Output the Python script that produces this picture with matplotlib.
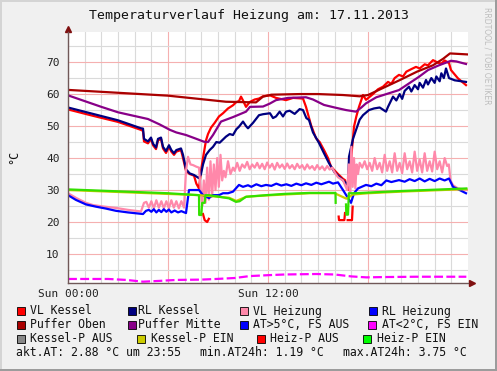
import numpy as np
import matplotlib
matplotlib.use("Agg")
import matplotlib.pyplot as plt
from matplotlib.patches import Rectangle

W, H = 497, 371
nan = np.nan

# --- data (hours since 00:00, degC) ---
vl_kessel_h = [0, 1.5, 3, 4.38, 4.5, 4.56, 4.8, 4.98, 5.1, 5.28, 5.4, 5.58, 5.7, 5.88, 6.06, 6.2, 6.36, 6.5,
               6.78, 6.9, 7.08, 7.3, 7.56, 7.7, 7.86, 7.98, 8.1, 8.28, 8.4, 8.58, 8.8, 9.06, 9.3, 9.6, 9.9,
               10.1, 10.26, 10.38, 10.5, 10.68, 10.9, 11.2, 11.46, 11.7, 12.12, 12.48, 13.08, 13.5, 14.1,
               14.28, 14.58, 14.88, 15.1, 15.36, 15.6, 15.78, 16.2, 16.5, 16.62, 16.8, 16.98, 17.16, 17.3,
               17.46, 17.7, 17.88, 18.3, 18.6, 18.9, 19.2, 19.4, 19.6, 19.86, 20.1, 20.3, 20.6, 20.88, 21.1,
               21.4, 21.6, 21.9, 22.2, 22.4, 22.6, 22.86, 22.98, 23.4, 23.88]
vl_kessel_v = [55.2, 53.2, 51.3, 48.8, 48.5, 45.2, 44.6, 46, 44, 42.8, 45.5, 46, 43, 41.6, 43.5, 42, 41, 42,
               42.5, 40, 36, 35, 34.5, 32, 30.5, 36, 40, 45.5, 47.5, 49.5, 51, 53, 54, 55.5, 56.5,
               57.5, 57.8, 59.2, 58, 56, 57.5, 58.3, 58.6, 59.3, 59.6, 58.8, 58.1, 58.8, 58.6,
               56, 50.3, 46.2, 45, 42.5, 40, 37.3, 35, 33.5, 33.1, 30, 39.4, 49.8, 53,
               56, 59.7, 58.2, 60, 61.5, 62.3, 63.8, 63.2, 65, 66, 65.5, 67, 67.8, 68.5, 68,
               69.3, 69, 70.6, 69.8, 69.5, 70.5, 69.7, 67.5, 64.9, 62.8]

rl_kessel_h = [0, 1.5, 3, 4.38, 4.5, 4.56, 4.8, 4.98, 5.1, 5.28, 5.4, 5.58, 5.7, 5.88, 6.06, 6.2, 6.36, 6.5,
               6.78, 6.9, 7.08, 7.3, 7.56, 7.86, 7.98, 8.1, 8.28, 8.5, 8.7, 8.9, 9.1, 9.48, 9.7, 9.9, 10.1,
               10.26, 10.5, 10.68, 10.8, 11.1, 11.46, 11.7, 12.12, 12.3, 12.48, 12.7, 12.9, 13.08, 13.3,
               13.6, 13.9, 14.1, 14.3, 14.46, 14.7, 15.06, 15.36, 15.66, 16.0, 16.4, 16.68, 16.8, 16.86,
               17.1, 17.28, 17.5, 17.7, 18.06, 18.36, 18.7, 19.08, 19.2, 19.5, 19.7, 19.9, 20.05, 20.2,
               20.46, 20.6, 20.8, 21.0, 21.1, 21.3, 21.48, 21.6, 21.8, 22.0, 22.1, 22.3, 22.4, 22.55,
               22.68, 22.86, 23.2, 23.88]
rl_kessel_v = [55.8, 53.8, 51.8, 49.3, 49.2, 46, 45.2, 46.4, 44.5, 43.3, 46, 46.4, 43.5, 42.2, 44, 42.5, 41.5, 42.5,
               43, 41, 36.5, 35.2, 34.7, 33.7, 35, 38, 41, 42.5, 43.5, 45, 44.8, 46.7, 47.5, 47.2, 49,
               49.8, 51.4, 50, 49.3, 51, 53.4, 53.7, 54, 52.5, 53, 54.5, 53, 54.5, 54.8,
               53.8, 55.3, 55, 52.5, 51.9, 48, 44.7, 41.5, 38.4, 35.5, 33.5, 32.2, 31, 40.4,
               46, 48.75, 52, 53.4, 55, 55.5, 55.8, 54.5, 56, 59.2, 58, 60, 58.5, 61,
               62.3, 60.8, 62.8, 61.5, 63.5, 62, 64.4, 63, 65, 63.5, 65.5, 64, 66.5, 65,
               68, 65, 64.3, 63.8]

vl_heiz_h = [0, 0.5, 1.08, 1.5, 2.2, 2.88, 3.6, 4.38, 4.56, 4.7, 4.85, 5.0, 5.15, 5.3, 5.45, 5.6, 5.75, 5.9,
             6.05, 6.2, 6.35, 6.5, 6.65, 6.8, 6.96, 7.08, 7.2, 7.35, 7.5, 7.7, 7.86, 7.98, 8.05, 8.15, 8.25,
             8.35, 8.45, 8.55, 8.65, 8.75, 8.85, 8.95, 9.05, 9.15, 9.25, 9.35, 9.45, 9.6, 9.75, 9.9, 10.0,
             10.15, 10.3, 10.45, 10.6, 10.75, 10.9, 11.05, 11.2, 11.35, 11.5, 11.65, 11.8, 11.95, 12.1,
             12.25, 12.4, 12.55, 12.7, 12.85, 13.0, 13.15, 13.3, 13.45, 13.6, 13.75, 13.9, 14.05, 14.2,
             14.35, 14.5, 14.65, 14.8, 14.95, 15.1, 15.25, 15.4, 15.55, 15.7, 15.85, 16.0, 16.2, 16.5,
             16.75, 16.85, 16.92, 17.0, 17.08, 17.16, 17.24, 17.32, 17.4, 17.5, 17.65, 17.8, 17.95, 18.1,
             18.25, 18.4, 18.55, 18.7, 18.85, 19.0, 19.15, 19.3, 19.45, 19.6, 19.75, 19.9, 20.05, 20.2,
             20.35, 20.5, 20.65, 20.8, 20.95, 21.1, 21.25, 21.4, 21.55, 21.7, 21.85, 22.0, 22.15, 22.3,
             22.45, 22.6, 22.75, 22.85, 22.95, 23.1, 23.4, 23.94]
vl_heiz_v = [29, 27.5, 26, 25.3, 24.8, 24.4, 23.8, 23.3, 26, 26.3, 24.5, 26.5, 24.3, 26.8, 24.5, 26.5, 24.3, 26.5,
             24.3, 26.8, 24.5, 26.5, 24.3, 26.5, 24.5, 36, 40.4, 38, 37.8, 37.3, 37, 29, 25, 33, 26,
             37, 27, 39, 28, 38, 30, 40, 31, 41, 33, 36, 34, 39, 35, 37, 36,
             38.5, 36, 38, 37, 38.8, 36.5, 38, 37, 38.5, 36.8, 38.2, 36.5, 38.6, 37,
             38.2, 36.4, 38.5, 37, 38, 36.6, 38.3, 36.8, 37.8, 36.5, 38.2, 36.9, 37.8, 36.4,
             38, 36.7, 37.5, 36.3, 37.8, 36.5, 37.4, 36.2, 37.5, 36.4, 37, 35.5, 34, 33,
             30, 38, 29, 43.5, 31, 40, 30.5, 38, 35, 38.5, 37, 39, 36.5, 38.5,
             36, 40, 36.5, 38.5, 35.5, 41, 36, 39, 35.5, 41.5, 36, 38.5, 35.3, 41.5,
             36.5, 39, 35.5, 42, 36, 39.5, 35.5, 41.5, 36, 39, 35.8, 42, 36.5, 39,
             35.5, 40, 37.5, 38, 33, 31.5, 30.5, 30]

rl_heiz_h = [0, 0.48, 1.08, 1.68, 2.28, 2.88, 3.6, 4.5, 4.68, 4.85, 5.0, 5.15, 5.3, 5.45, 5.6, 5.75, 5.9, 6.05,
             6.2, 6.4, 6.6, 6.8, 7.08, 7.26, 7.86, 8.1, 8.46, 8.7, 9.06, 9.3, 9.6, 9.9, 10.26, 10.5, 10.8,
             11.0, 11.3, 11.6, 11.88, 12.2, 12.5, 12.8, 13.1, 13.4, 13.7, 14.0, 14.28, 14.6, 14.9, 15.2,
             15.66, 15.9, 16.2, 16.5, 16.98, 17.16, 17.4, 17.88, 18.2, 18.5, 18.8, 19.1, 19.4, 19.86,
             20.2, 20.5, 20.8, 21.1, 21.4, 21.7, 22.0, 22.3, 22.6, 22.86, 23.1, 23.5, 23.88]
rl_heiz_v = [28.4, 26.9, 25.5, 24.8, 24.2, 23.5, 23, 22.5, 23.5, 23.8, 23.2, 24, 23, 23.8, 23.1, 24, 23.2, 23.9,
             23, 23.6, 23, 23.4, 22.8, 30, 30, 28.4, 27.5, 28.4, 28.4, 29, 29, 29.5, 31.6, 31, 31.5,
             31, 31.8, 31.2, 31.6, 31.3, 32, 31.4, 31.8, 31.3, 32, 31.5, 32.1, 31.6, 32.3, 31.8,
             32.6, 32, 32.4, 30, 26, 29, 30.5, 31.6, 31.2, 32, 31.5, 33, 32.5, 33.1,
             32.6, 33.4, 32.8, 33.6, 32.7, 33.5, 32.8, 33.6, 33, 33.6, 31, 30, 29]

puffer_oben_h = [0, 3, 6, 9.48, 11.28, 11.7, 12.2, 13.92, 15, 16.5, 17.5, 18, 18.9, 19.92, 20.94, 21.9, 22.5, 22.92, 23.94]
puffer_oben_v = [61.3, 60.4, 59.5, 57.6, 57.4, 59.2, 59.8, 60, 60, 59.7, 59.3, 59.7, 61.9, 64.4, 67, 69, 71, 72.7, 72.4]

puffer_mitte_h = [0, 1, 2, 3, 4.8, 5.5, 6.12, 6.5, 7.08, 7.6, 8.16, 8.4, 8.7, 9.18, 9.9, 10.68, 10.92, 11.7,
                  12.1, 12.48, 13.2, 14.28, 14.7, 15.36, 16.0, 16.68, 17.28, 17.6, 17.88, 18.5, 19.86,
                  21.06, 21.6, 22.26, 22.98, 23.3, 23.88]
puffer_mitte_v = [59.6, 57.8, 56, 54.3, 52.2, 50.5, 48.8, 48, 47.2, 46.2, 45.1, 45, 47.2, 51.4, 52.8, 54.5, 56, 56.1,
                  57, 58.1, 58.8, 59, 58.3, 56.6, 55.8, 55, 54.5, 55.8, 57.1, 59, 61.25,
                  65.4, 67.5, 69, 70.4, 70.2, 69.4]

aussen_h = [0, 1, 2.4, 3.5, 4.5, 5.5, 6.5, 8, 8.9, 10, 10.9, 12.06, 13, 14.9, 16, 17, 17.9, 19, 20.9, 22, 23.9]
aussen_v = [2.2, 2.2, 2.2, 1.9, 1.35, 1.6, 1.9, 2.0, 2.2, 2.5, 3.1, 3.4, 3.6, 3.75, 3.6, 3.0, 2.7, 2.8, 2.9, 2.9, 2.9]

kessel_p_ein_h = [0, 7.86, 9.66, 10.1, 10.7, 11.88, 14.5, 16.0, 16.7, 17.1, 18, 20, 23.9]
kessel_p_ein_v = [30, 28.4, 27.6, 26.6, 27.9, 28.3, 29, 29, 27.3, 28.6, 29, 29.5, 30.3]

heiz_p_aus_h = [8.1, 8.2, 8.35, 8.45, nan, 16.24, 16.26, 16.58, 16.62, nan, 16.78, 17.04, 17.08]
heiz_p_aus_v = [22.5, 20.6, 20.0, 21, nan, 21.7, 20.6, 20.6, 22.8, nan, 20.6, 20.6, 24.8]

heiz_p_ein_h = [0, 2, 4, 6, 7.86, 7.87, 8.0, 8.05, 8.2, 8.25, 8.46, 9.66, 10.08, 10.3, 10.68, 11.88, 13, 14.5,
                16.05, 16.06, nan, 16.68, 16.7, 16.8, 16.85, 17.2, 20, 23.9]
heiz_p_ein_v = [30.2, 29.8, 29.4, 29, 28.4, 22.2, 22.2, 26, 26, 28.4, 28.4, 27.4, 26.3, 26.5, 27.9, 28.4, 28.8, 29.1,
                29.1, 26, nan, 25.5, 22.3, 22.3, 29, 29, 29.7, 30.5]

legend_rows = [
    [("VL Kessel", "#ff0000", 17, 30), ("RL Kessel", "#000080", 128, 138),
     ("VL Heizung", "#ff88aa", 240, 253), ("RL Heizung", "#0000ff", 369, 382)],
    [("Puffer Oben", "#aa0000", 17, 30), ("Puffer Mitte", "#880088", 128, 138),
     ("AT>5°C, FS AUS", "#0000ff", 240, 253), ("AT<2°C, FS EIN", "#ff00ff", 368, 382)],
    [("Kessel-P AUS", "#888888", 17, 30), ("Kessel-P EIN", "#cccc00", 137, 151),
     ("Heiz-P AUS", "#ff0000", 257, 270), ("Heiz-P EIN", "#00ff00", 363, 377)],
]
legend_y = [311, 325, 339]

plt.rcParams["font.family"] = "DejaVu Sans Mono"

fig = plt.figure(figsize=(W / 100, H / 100), dpi=100, facecolor="#f0f0f0")
ax = fig.add_axes([68 / W, 1 - 283 / H, 400 / W, 251 / H])
ax.set_facecolor("white")

lw = 1.6
ax.plot(vl_kessel_h, vl_kessel_v, color="#ff0000", lw=lw)
ax.plot(rl_kessel_h, rl_kessel_v, color="#000080", lw=lw)
ax.plot(vl_heiz_h, vl_heiz_v, color="#ff88aa", lw=lw)
ax.plot(rl_heiz_h, rl_heiz_v, color="#0000ff", lw=lw)
ax.plot(puffer_oben_h, puffer_oben_v, color="#aa0000", lw=lw)
ax.plot(puffer_mitte_h, puffer_mitte_v, color="#880088", lw=lw)
ax.plot(aussen_h, aussen_v, color="#ff00ff", lw=lw, linestyle=(0, (4, 1.5)))
ax.plot(kessel_p_ein_h, kessel_p_ein_v, color="#cccc00", lw=lw)
ax.plot(heiz_p_aus_h, heiz_p_aus_v, color="#ff0000", lw=lw)
ax.plot(heiz_p_ein_h, heiz_p_ein_v, color="#33e000", lw=lw)

ax.set_xlim(0, 24)
ax.set_ylim(0.94, 79.4)
ax.set_xticks([0, 6, 12, 18])
ax.set_xticklabels(["Sun 00:00", "", "Sun 12:00", ""])
ax.set_xticks([h for h in range(1, 25) if h % 6], minor=True)
ax.set_yticks(range(10, 80, 10))
ax.set_yticks([v for v in range(5, 80, 5) if v % 10], minor=True)
ax.grid(which="minor", color="#dadada", lw=0.8)
ax.grid(which="major", color="#f5b0b0", lw=0.8)
ax.set_axisbelow(True)
ax.tick_params(which="both", length=0, labelsize=8, colors="#222222")
ax.tick_params(axis="y", pad=6)
ax.tick_params(axis="x", pad=4)

for s in ["top", "right"]:
    ax.spines[s].set_visible(False)
for s in ["left", "bottom"]:
    ax.spines[s].set_color("#705858")
    ax.spines[s].set_linewidth(1)

ax.plot([0], [1.012], marker="^", ms=4.5, color="#7f1010", transform=ax.transAxes, clip_on=False)
ax.plot([1.01], [0], marker=">", ms=4.5, color="#7f1010", transform=ax.transAxes, clip_on=False)


def px(x, y):
    return x / W, 1 - y / H


fig.text(*px(249, 16), "Temperaturverlauf Heizung am: 17.11.2013", ha="center", va="center",
         fontsize=9.5, color="#111111")
fig.text(*px(13.5, 157), "°C", rotation=90, ha="center", va="center", fontsize=8.5, color="#111111")
fig.text(*px(487, 7), "RRDTOOL / TOBI OETIKER", rotation=270, ha="center", va="top",
         fontsize=5.5, color="#bdbdbd", family="DejaVu Sans")

for row, yc in zip(legend_rows, legend_y):
    for label, col, sx, tx in row:
        fig.add_artist(Rectangle(px(sx, yc + 4), 8 / W, 8 / H, transform=fig.transFigure,
                                 facecolor=col, edgecolor="black", lw=0.6))
        fig.text(*px(tx, yc), label, ha="left", va="center", fontsize=8.3, color="#111111")

fig.text(*px(16, 353), "akt.AT: 2.88 °C um 23:55", ha="left", va="center", fontsize=8.3, color="#111111")
fig.text(*px(200, 353), "min.AT24h: 1.19 °C", ha="left", va="center", fontsize=8.3, color="#111111")
fig.text(*px(343, 353), "max.AT24h: 3.75 °C", ha="left", va="center", fontsize=8.3, color="#111111")

# 3d frame
fig.add_artist(Rectangle((0, 0), 1, 2 / H, transform=fig.transFigure, color="#9c9c9c", lw=0))
fig.add_artist(Rectangle((1 - 2 / W, 0), 2 / W, 1, transform=fig.transFigure, color="#9c9c9c", lw=0))
fig.add_artist(Rectangle((0, 1 - 2 / H), 1 - 2 / W, 2 / H, transform=fig.transFigure, color="#d4d4d4", lw=0))
fig.add_artist(Rectangle((0, 2 / H), 2 / W, 1 - 4 / H, transform=fig.transFigure, color="#d4d4d4", lw=0))

fig.savefig("out.png", dpi=100, facecolor=fig.get_facecolor())
